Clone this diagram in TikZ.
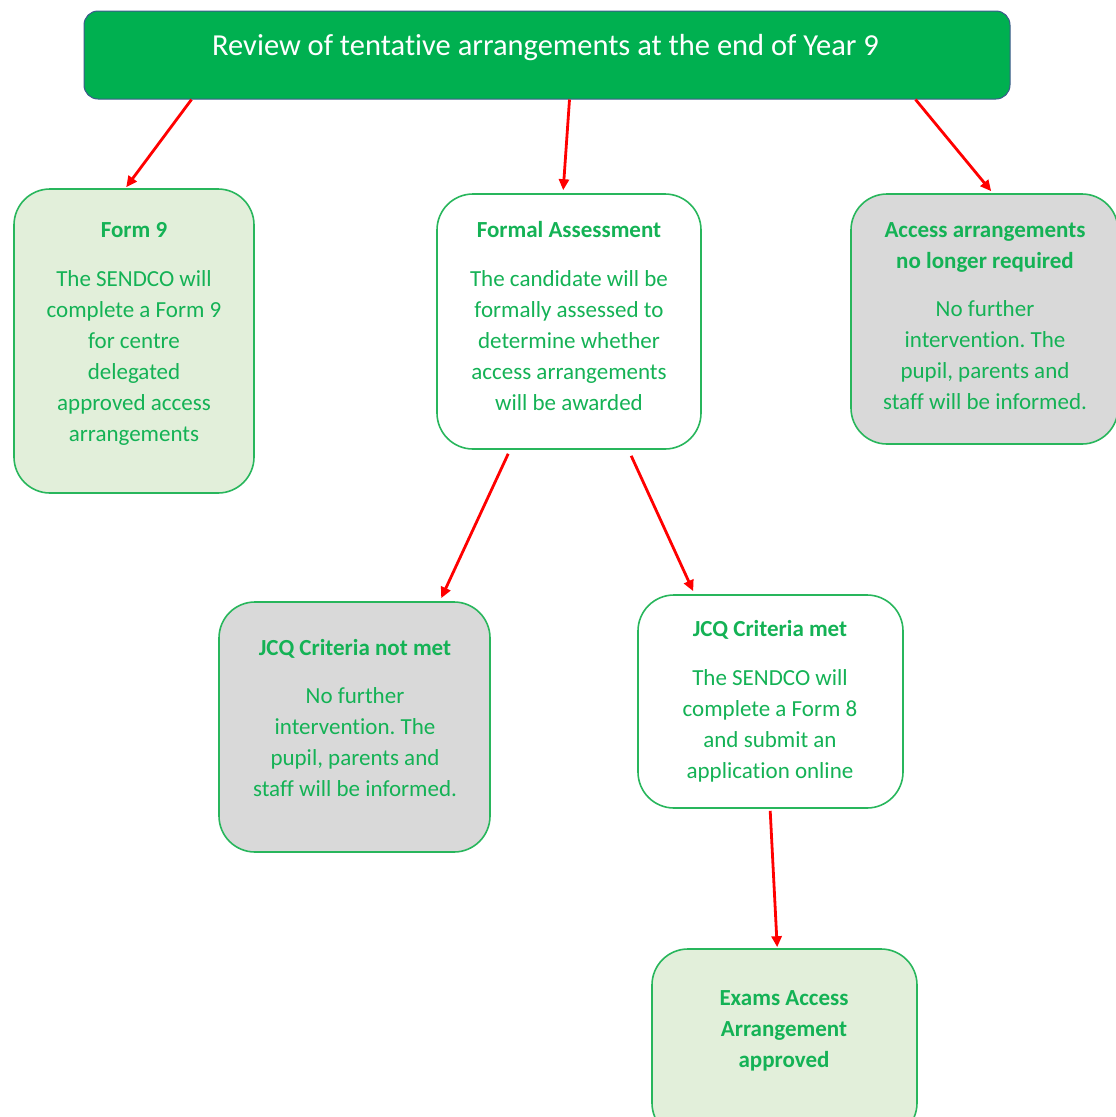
\documentclass[tikz,border=0pt]{standalone}
\usepackage{fontspec}
\setmainfont{Carlito}[Ligatures=NoCommon]
\usetikzlibrary{arrows.meta,calc}
\definecolor{hdgreen}{RGB}{0,176,80}
\definecolor{txtgreen}{RGB}{20,178,85}
\definecolor{boxline}{RGB}{40,182,92}
\definecolor{hdline}{RGB}{60,90,140}
\definecolor{boxgreen}{RGB}{226,239,218}
\definecolor{boxgray}{RGB}{217,217,217}
\definecolor{arrred}{RGB}{255,0,0}
\newcommand\topstrut{\rule{0pt}{25pt}}
\frenchspacing
\begin{document}
\begin{tikzpicture}[x=1pt,y=-1pt,
  box/.style={draw=boxline,line width=1.6pt,rounded corners=36pt,inner sep=0pt,fill=white},
  headbox/.style={draw=hdline,line width=1pt,fill=hdgreen,rounded corners=14pt,inner sep=0pt},
  txt/.style={text=txtgreen,align=center,inner sep=0pt,anchor=north,
    font=\fontsize{23}{31}\selectfont},
  headtxt/.style={text=white,inner sep=0pt,anchor=base,font=\fontsize{30.5}{36}\selectfont},
  conn/.style={draw=arrred,line width=2.8pt,-{Triangle[length=11pt,width=10pt]}}]
\useasboundingbox (0,0) rectangle (1116,1117);
\clip (0,0) rectangle (1116,1117);

% boxes
\node[headbox,minimum width=926pt,minimum height=88pt] (title) at (547,55) {};
\node[box,fill=boxgreen,minimum width=240pt,minimum height=304pt] (form9) at (134,341) {};
\node[box,minimum width=264pt,minimum height=255pt] (formal) at (569,321.5) {};
\node[box,fill=boxgray,minimum width=267pt,minimum height=250pt] (access) at (984.5,319) {};
\node[box,fill=boxgray,minimum width=271pt,minimum height=250pt] (notmet) at (354.5,727) {};
\node[box,minimum width=265pt,minimum height=213pt] (met) at (770.5,701.5) {};
\node[box,fill=boxgreen,minimum width=265pt,minimum height=190pt] (exams) at (784.5,1044) {};

% texts
\node[headtxt] (titlet) at (545.5,55) {Review of tentative arrangements at the end of Year 9};
\node[txt] (form9t) at (134,212) {\topstrut\textbf{Form 9}\\[18pt]The SENDCO will\\complete a Form 9\\for centre\\delegated\\approved access\\arrangements};
\node[txt] (formalt) at (569,212) {\topstrut\textbf{Formal Assessment}\\[18pt]The candidate will be\\formally assessed to\\determine whether\\access arrangements\\will be awarded};
\node[txt] (accesst) at (985,212) {\topstrut\textbf{Access arrangements}\\\textbf{no longer required}\\[17pt]No further\\intervention. The\\pupil, parents and\\staff will be informed.};
\node[txt] (notmett) at (355,630) {\topstrut\textbf{JCQ Criteria not met}\\[17pt]No further\\intervention. The\\pupil, parents and\\staff will be informed.};
\node[txt] (mett) at (770,611) {\topstrut\textbf{JCQ Criteria met}\\[18pt]The SENDCO will\\complete a Form 8\\and submit an\\application online};
\node[txt] (examst) at (784,980) {\topstrut\textbf{Exams Access}\\\textbf{Arrangement}\\\textbf{approved}};

% connectors
\draw[conn] ([xshift=108pt]title.south west) -- ([xshift=113pt,yshift=1pt]form9.north west);
\draw[conn] ([xshift=486pt]title.south west) -- ([xshift=127pt,yshift=3pt]formal.north west);
\draw[conn] ([xshift=832pt]title.south west) -- ([xshift=141pt,yshift=2pt]access.north west);
\draw[conn] ([xshift=72pt,yshift=-4pt]formal.south west) -- ([xshift=223pt,yshift=3pt]notmet.north west);
\draw[conn] ([xshift=195pt,yshift=-6pt]formal.south west) -- ([xshift=56pt,yshift=3pt]met.north west);
\draw[conn] ([xshift=133pt,yshift=-2pt]met.south west) -- ([xshift=126pt,yshift=1pt]exams.north west);
\end{tikzpicture}
\end{document}
